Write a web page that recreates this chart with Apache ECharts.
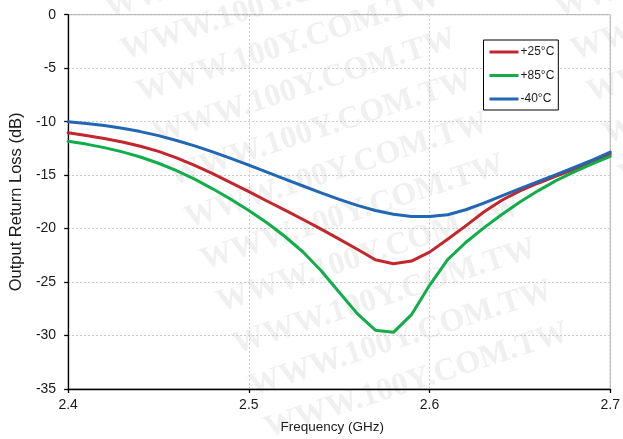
<!DOCTYPE html>
<html>
<head>
<meta charset="utf-8">
<script src="https://cdn.jsdelivr.net/npm/echarts@6/dist/echarts.min.js"></script>
<style>
  html, body { margin: 0; padding: 0; background: #fff; }
  #chart { width: 623px; height: 439px; }
</style>
</head>
<body>
<div id="chart"></div>
<script>
// Output return loss vs frequency at three temperatures
const freqGHz = [2.40, 2.41, 2.42, 2.43, 2.44, 2.45, 2.46, 2.47, 2.48, 2.49,
                 2.50, 2.51, 2.52, 2.53, 2.54, 2.55, 2.56, 2.57, 2.58, 2.59,
                 2.60, 2.61, 2.62, 2.63, 2.64, 2.65, 2.66, 2.67, 2.68, 2.69, 2.70];

const lossPlus25 = [-11.03, -11.29, -11.57, -11.90, -12.30, -12.78, -13.38, -14.08, -14.86, -15.70,
                    -16.55, -17.42, -18.28, -19.15, -20.05, -20.98, -21.93, -22.92, -23.29, -23.04,
                    -22.20, -21.00, -19.75, -18.45, -17.35, -16.47, -15.76, -15.10, -14.45, -13.77, -13.03];

const lossPlus85 = [-11.83, -12.10, -12.43, -12.83, -13.31, -13.89, -14.58, -15.38, -16.28, -17.26,
                    -18.31, -19.46, -20.74, -22.19, -23.95, -25.95, -27.95, -29.50, -29.70, -28.05,
                    -25.30, -22.90, -21.30, -19.93, -18.68, -17.52, -16.47, -15.52, -14.70, -13.95, -13.25];

const lossMinus40 = [-10.00, -10.17, -10.37, -10.62, -10.93, -11.31, -11.76, -12.27, -12.83, -13.44,
                     -14.07, -14.72, -15.37, -16.02, -16.66, -17.27, -17.83, -18.31, -18.66, -18.86,
                     -18.88, -18.70, -18.24, -17.62, -16.95, -16.27, -15.61, -14.95, -14.29, -13.60, -12.85];

const seriesNames = ['+25°C', '+85°C', '-40°C'];
const seriesColors = ['#C1272D', '#12AD4B', '#2167B3'];
const seriesValues = [lossPlus25, lossPlus85, lossMinus40];

const xTicks = [2.4, 2.5, 2.6, 2.7];
const yTicks = [0, -5, -10, -15, -20, -25, -30, -35];

// Faint diagonal site stamp behind the plot
const stampText = 'WWW.100Y.COM.TW';
const stamps = [];
const columns = [[127, 67], [577, 67]];
columns.forEach(([cx, cy]) => {
  for (let k = -2; k <= 9; k++) {
    stamps.push({
      type: 'text',
      x: cx + 16 * k,
      y: cy + 42 * k,
      rotation: 18 * Math.PI / 180,
      z: -10,
      silent: true,
      style: {
        text: stampText,
        fill: '#f0f0f0',
        font: 'bold 32px "Liberation Serif", "DejaVu Serif", serif',
        textAlign: 'left',
        textVerticalAlign: 'bottom'
      }
    });
  }
});

const chart = echarts.init(document.getElementById('chart'), null, { renderer: 'canvas' });

const labelFont = '"Liberation Sans", Arial, sans-serif';

chart.setOption({
  animation: false,
  backgroundColor: '#ffffff',
  graphic: stamps,
  grid: {
    left: 63.5, right: 8.7, top: 14.7, bottom: 46.7,
    show: true,
    borderColor: '#a0a0a0',
    borderWidth: 1,
    backgroundColor: 'transparent'
  },
  legend: {
    orient: 'vertical',
    left: 483.5,
    top: 40,
    data: seriesNames,
    icon: 'rect',
    itemWidth: 29,
    itemHeight: 3,
    itemGap: 9.5,
    padding: [5, 4, 4, 6],
    borderColor: '#000',
    borderWidth: 1,
    backgroundColor: '#fff',
    textStyle: {
      fontFamily: labelFont,
      fontSize: 12,
      lineHeight: 14,
      color: '#1a1a1a',
      padding: [0, 0, 0, -3]
    }
  },
  xAxis: {
    type: 'value',
    min: 2.4,
    max: 2.7,
    interval: 0.1,
    name: 'Frequency (GHz)',
    nameLocation: 'middle',
    nameGap: 31,
    nameTextStyle: { fontFamily: labelFont, fontSize: 13.5, color: '#1a1a1a', padding: [0, 14, 0, 0] },
    axisLine: { show: true, onZero: false, lineStyle: { color: '#000', width: 1.3 } },
    axisTick: { show: true, inside: false, length: 4, lineStyle: { color: '#000', width: 1.3 } },
    axisLabel: {
      margin: 9,
      fontFamily: labelFont,
      fontSize: 14,
      color: '#1a1a1a',
      formatter: v => {
        const hit = xTicks.find(t => Math.abs(t - v) < 1e-6);
        return hit === undefined ? '' : hit.toFixed(1);
      }
    },
    splitLine: { show: true, lineStyle: { color: '#c8c8c8', type: [2, 2], width: 1 } }
  },
  yAxis: {
    type: 'value',
    min: -35,
    max: 0,
    interval: 5,
    name: 'Output Return Loss (dB)',
    nameLocation: 'middle',
    nameGap: 35,
    nameRotate: 90,
    nameTextStyle: { fontFamily: labelFont, fontSize: 16.5, color: '#1a1a1a' },
    axisLine: { show: true, onZero: false, lineStyle: { color: '#000', width: 1.3 } },
    axisTick: { show: true, inside: false, length: 4, lineStyle: { color: '#000', width: 1.3 } },
    axisLabel: {
      margin: 12,
      fontFamily: labelFont,
      fontSize: 14,
      color: '#1a1a1a',
      formatter: v => {
        const hit = yTicks.find(t => Math.abs(t - v) < 1e-6);
        return hit === undefined ? '' : String(hit);
      }
    },
    splitLine: { show: true, lineStyle: { color: '#c8c8c8', type: [2, 2], width: 1 } }
  },
  series: seriesNames.map((name, i) => ({
    name: name,
    type: 'line',
    z: 3,
    data: freqGHz.map((f, j) => [f, seriesValues[i][j]]),
    showSymbol: false,
    symbol: 'none',
    smooth: false,
    color: seriesColors[i],
    lineStyle: { color: seriesColors[i], width: 3, join: 'round', cap: 'round' }
  }))
});
</script>
</body>
</html>
